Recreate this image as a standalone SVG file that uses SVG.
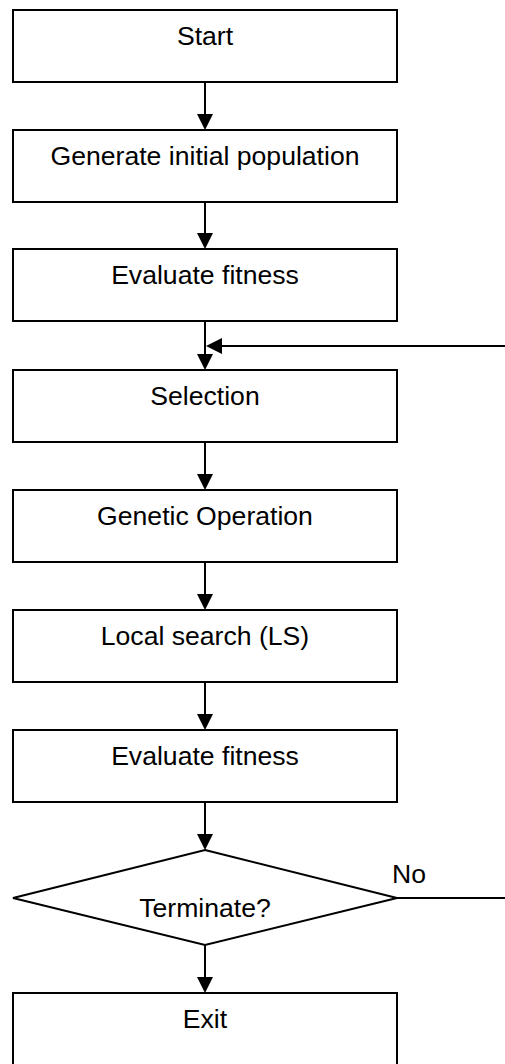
<svg xmlns="http://www.w3.org/2000/svg" width="505" height="1064" viewBox="0 0 505 1064">
  <style>
    .box { fill: #fff; stroke: #000; stroke-width: 2; }
    .lbl { font-family: "Liberation Sans", Arial, sans-serif; font-size: 26.6px; fill: #000; text-anchor: middle; }
    .wire { fill: none; stroke: #000; stroke-width: 2; }
    .head { fill: #000; stroke: none; }
  </style>
  <defs>
    <!-- filled triangle, tip at the origin, pointing down -->
    <path id="down" class="head" d="M0,0 L-8,-16 L8,-16 Z"/>
    <path id="left" class="head" d="M0,0 L16,-8 L16,8 Z"/>
  </defs>
  <rect width="505" height="1064" fill="#fff"/>

  <g id="connectors">
    <line class="wire" x1="205" y1="82" x2="205" y2="116"/>
    <use href="#down" x="205" y="130"/>
    <line class="wire" x1="205" y1="202" x2="205" y2="235"/>
    <use href="#down" x="205" y="249"/>
    <line class="wire" x1="205" y1="321" x2="205" y2="356"/>
    <use href="#down" x="205" y="370"/>
    <line class="wire" x1="205" y1="442" x2="205" y2="476"/>
    <use href="#down" x="205" y="490"/>
    <line class="wire" x1="205" y1="562" x2="205" y2="596"/>
    <use href="#down" x="205" y="610"/>
    <line class="wire" x1="205" y1="682" x2="205" y2="716"/>
    <use href="#down" x="205" y="730"/>
    <line class="wire" x1="205" y1="802" x2="205" y2="836"/>
    <use href="#down" x="205" y="850"/>
    <line class="wire" x1="205" y1="945" x2="205" y2="979"/>
    <use href="#down" x="205" y="993"/>
    <!-- loop back from the decision into Selection -->
    <line class="wire" x1="397" y1="898" x2="506" y2="898"/>
    <line class="wire" x1="506" y1="346" x2="220" y2="346"/>
    <use href="#left" x="206" y="346"/>
    <text class="lbl" x="409" y="883">No</text>
  </g>

  <g id="start">
    <rect class="box" x="13" y="10" width="384" height="72"/>
    <text class="lbl" x="205" y="45">Start</text>
  </g>
  <g id="init">
    <rect class="box" x="13" y="130" width="384" height="72"/>
    <text class="lbl" x="205" y="165">Generate initial population</text>
  </g>
  <g id="eval1">
    <rect class="box" x="13" y="249" width="384" height="72"/>
    <text class="lbl" x="205" y="284">Evaluate fitness</text>
  </g>
  <g id="selection">
    <rect class="box" x="13" y="370" width="384" height="72"/>
    <text class="lbl" x="205" y="405">Selection</text>
  </g>
  <g id="genetic">
    <rect class="box" x="13" y="490" width="384" height="72"/>
    <text class="lbl" x="205" y="525">Genetic Operation</text>
  </g>
  <g id="local">
    <rect class="box" x="13" y="610" width="384" height="72"/>
    <text class="lbl" x="205" y="645">Local search (LS)</text>
  </g>
  <g id="eval2">
    <rect class="box" x="13" y="730" width="384" height="72"/>
    <text class="lbl" x="205" y="765">Evaluate fitness</text>
  </g>
  <g id="terminate">
    <polygon class="box" points="205,850 397,898 205,945 13,898"/>
    <text class="lbl" x="205" y="917">Terminate?</text>
  </g>
  <g id="exit">
    <rect class="box" x="13" y="993" width="384" height="73"/>
    <text class="lbl" x="205" y="1028">Exit</text>
  </g>
</svg>
